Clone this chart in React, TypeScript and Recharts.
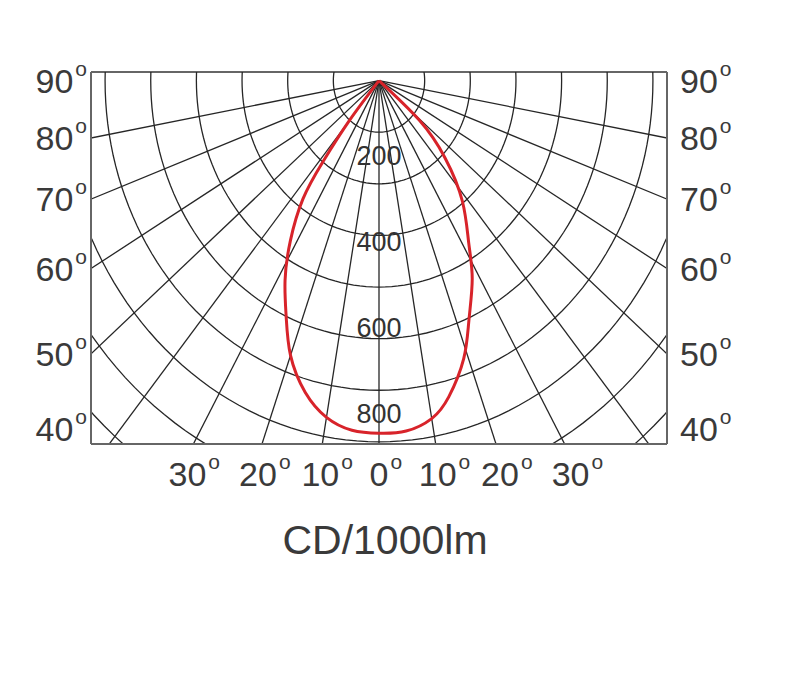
import { ComposedChart, Line, ReferenceDot, ReferenceLine, XAxis, YAxis } from "recharts";

// polar candela plot, values in cd per 1000 lm
const CURVE_ANGLES = [-41, -40, -38, -36, -32, -28, -24, -20, -15, -10, -5, 0, 5, 10, 14, 19, 23, 28, 32, 38, 44, 49, 50];
const CURVE_CD = [0, 120, 240, 340, 440, 526, 600, 680, 750, 795, 816, 820, 818, 798, 758, 684, 605, 522, 445, 356, 250, 140, 0];

const RING_STEP = 120;
const RING_COUNT = 9;
const SPOKE_ANGLES = [-80, -70, -60, -50, -40, -30, -20, -10, 0, 10, 20, 30, 40, 50, 60, 70, 80];
const INTENSITY_LABELS = [200, 400, 600, 800];
const SIDE_ANGLE_LABELS = [90, 80, 70, 60, 50, 40];
const BOTTOM_ANGLE_LABELS = [-30, -20, -10, 0, 10, 20, 30];

const X_HALF = 757;
const Y_TOP = 20;
const Y_BOTTOM = -845;

const FONT = "'Liberation Sans', Arial, Helvetica, sans-serif";
const TEXT = "#3a3a3a";
const GRID = "#262626";
const LABEL_SIZE = 34;

type Pt = { x: number; y: number };

const rad = (d: number) => (d * Math.PI) / 180;
const polar = (deg: number, r: number): Pt => ({ x: r * Math.sin(rad(deg)), y: -r * Math.cos(rad(deg)) });

const rings: Pt[][] = [];
for (let k = 1; k <= RING_COUNT; k++) {
  const pts: Pt[] = [];
  for (let a = -180; a <= 180; a += 2) pts.push(polar(a, k * RING_STEP));
  rings.push(pts);
}

const spokes: Pt[][] = SPOKE_ANGLES.map((a) => [{ x: 0, y: 0 }, polar(a, 1400)]);

const curve: Pt[] = CURVE_ANGLES.map((a, i) => polar(a, CURVE_CD[i]));

// where a ray leaves the box on the left / right edge (clamped near the bottom)
const sideTicks = SIDE_ANGLE_LABELS.map((a) =>
  a === 90 ? 0 : Math.max(-X_HALF / Math.tan(rad(a)), Y_BOTTOM + 35)
);
// where a ray meets the bottom edge
const bottomTicks = BOTTOM_ANGLE_LABELS.map((a) => -Y_BOTTOM * Math.tan(rad(a)));

function SideTick(props: any) {
  const { x, y, index, side } = props;
  return (
    <text
      x={x}
      y={y + 12}
      textAnchor={side === "left" ? "end" : "start"}
      fill={TEXT}
      fontSize={LABEL_SIZE}
      fontFamily={FONT}
    >
      {SIDE_ANGLE_LABELS[index]}
      <tspan dx={2} dy={-17} fontSize={21}>
        o
      </tspan>
    </text>
  );
}

function BottomTick(props: any) {
  const { x, y, index } = props;
  const a = BOTTOM_ANGLE_LABELS[index];
  const label = String(Math.abs(a));
  const half = (label.length * 0.556 * LABEL_SIZE) / 2;
  const cx = x + a * 0.2;
  return (
    <g>
      <text x={cx} y={y + 42} textAnchor="middle" fill={TEXT} fontSize={LABEL_SIZE} fontFamily={FONT}>
        {label}
      </text>
      <text x={cx + half + 2} y={y + 25} fill={TEXT} fontSize={21} fontFamily={FONT}>
        o
      </text>
    </g>
  );
}

export default function App() {
  return (
    <div style={{ position: "absolute", left: 0, top: 0, background: "#fff" }}>
      <ComposedChart width={800} height={689} margin={{ top: 72, left: 31, right: 73, bottom: 215 }}>
        <XAxis
          xAxisId="b"
          type="number"
          dataKey="x"
          domain={[-X_HALF, X_HALF]}
          allowDataOverflow
          ticks={bottomTicks}
          interval={0}
          tickSize={0}
          tickMargin={0}
          tickLine={false}
          axisLine={{ stroke: "#666", strokeWidth: 2 }}
          tick={(p: any) => <BottomTick {...p} />}
          label={{ value: "CD/1000lm", position: "bottom", offset: 51, dx: 6, fontSize: 41, fill: TEXT, fontFamily: FONT }}
        />
        <YAxis
          yAxisId="l"
          type="number"
          domain={[Y_BOTTOM, Y_TOP]}
          allowDataOverflow
          ticks={sideTicks}
          interval={0}
          width={60}
          tickSize={0}
          tickMargin={4}
          tickLine={false}
          axisLine={{ stroke: "#666", strokeWidth: 2 }}
          tick={(p: any) => <SideTick {...p} side="left" />}
        />
        <YAxis
          yAxisId="r"
          orientation="right"
          type="number"
          domain={[Y_BOTTOM, Y_TOP]}
          allowDataOverflow
          ticks={sideTicks}
          interval={0}
          width={60}
          tickSize={0}
          tickMargin={13}
          tickLine={false}
          axisLine={{ stroke: "#666", strokeWidth: 2 }}
          tick={(p: any) => <SideTick {...p} side="right" />}
        />
        <ReferenceLine xAxisId="b" yAxisId="l" y={Y_TOP} stroke="#666" strokeWidth={2} />

        {rings.map((pts, i) => (
          <Line
            key={`ring-${i}`}
            xAxisId="b"
            yAxisId="l"
            data={pts}
            dataKey="y"
            type="linear"
            stroke={GRID}
            strokeWidth={1.3}
            dot={false}
            activeDot={false}
            isAnimationActive={false}
          />
        ))}
        {spokes.map((pts, i) => (
          <Line
            key={`spoke-${i}`}
            xAxisId="b"
            yAxisId="l"
            data={pts}
            dataKey="y"
            type="linear"
            stroke={GRID}
            strokeWidth={1.3}
            dot={false}
            activeDot={false}
            isAnimationActive={false}
          />
        ))}

        {INTENSITY_LABELS.map((v) => (
          <ReferenceDot
            key={`lbl-${v}`}
            xAxisId="b"
            yAxisId="l"
            x={0}
            y={-v}
            r={0}
            fill="none"
            stroke="none"
            label={{ value: String(v), position: "top", offset: 2, fontSize: 27, fill: "#333", fontFamily: FONT }}
          />
        ))}

        <Line
          xAxisId="b"
          yAxisId="l"
          data={curve}
          dataKey="y"
          type="natural"
          stroke="#d8232a"
          strokeWidth={3}
          dot={false}
          activeDot={false}
          isAnimationActive={false}
        />
      </ComposedChart>
    </div>
  );
}
